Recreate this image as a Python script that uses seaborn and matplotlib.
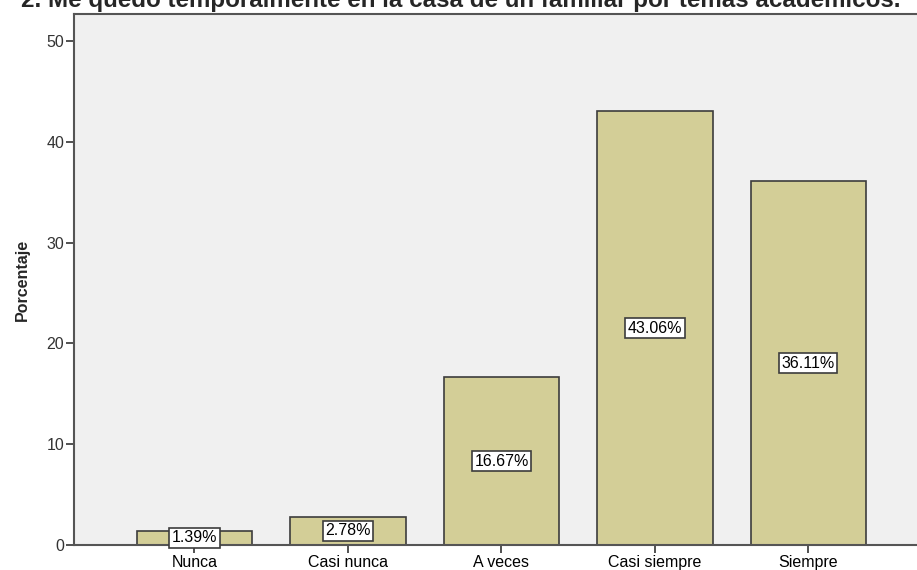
import pandas as pd
import matplotlib
matplotlib.use("Agg")
import matplotlib.pyplot as plt
import seaborn as sns

# datos
categorias = ["Nunca", "Casi nunca", "A veces", "Casi siempre", "Siempre"]
porcentajes = [1.39, 2.78, 16.67, 43.06, 36.11]
etiquetas = ["1.39%", "2.78%", "16.67%", "43.06%", "36.11%"]
titulo = "2. Me quedo temporalmente en la casa de un familiar por temas académicos."

sns.set_style("white")
plt.rcParams['font.family'] = ['Liberation Sans', 'DejaVu Sans']

df = pd.DataFrame({"categoria": categorias, "porcentaje": porcentajes})

fig = plt.figure(figsize=(9.17, 5.70), dpi=100)
ax = fig.add_axes([74 / 917, 1 - 545 / 570, 1 - 74 / 917, (545 - 14) / 570])
ax.set_facecolor("#F0F0F0")

sns.barplot(data=df, x="categoria", y="porcentaje", color="#D3CE97",
            saturation=1, width=0.75, edgecolor="#3C3C3C", linewidth=1.2, ax=ax)

# etiquetas en el centro de cada barra
for i, (v, txt) in enumerate(zip(porcentajes, etiquetas)):
    ax.text(i, v / 2, txt, ha="center", va="center", fontsize=11.5, color="black",
            bbox=dict(boxstyle="square,pad=0.15", fc="white", ec="#3C3C3C", lw=1.2),
            clip_on=False, zorder=5)

ax.set_ylim(0, 52.7)
ax.set_xlim(-0.785, 4.707)
ax.set_yticks([0, 10, 20, 30, 40, 50])
ax.set_xlabel("")
ax.set_ylabel("Porcentaje", fontsize=11.5, fontweight="bold", labelpad=12)

ax.tick_params(axis="y", direction="out", length=6, width=1.2, color="#333333",
               labelsize=11.5, labelcolor="#333333", pad=1, left=True)
ax.tick_params(axis="x", direction="out", length=6, width=1.2, color="#333333",
               labelsize=11.5, labelcolor="black", pad=1, bottom=True)

for side in ["left", "bottom", "top"]:
    ax.spines[side].set_color("#555555")
    ax.spines[side].set_linewidth(1.5)
ax.spines["right"].set_visible(False)

# el titulo queda cortado arriba, como en la imagen original
fig.text(0.5 + 2 / 917, 1 - 7 / 570, titulo, ha="center", va="baseline",
         fontsize=17.4, fontweight="bold")

fig.savefig("out.png", dpi=100)
